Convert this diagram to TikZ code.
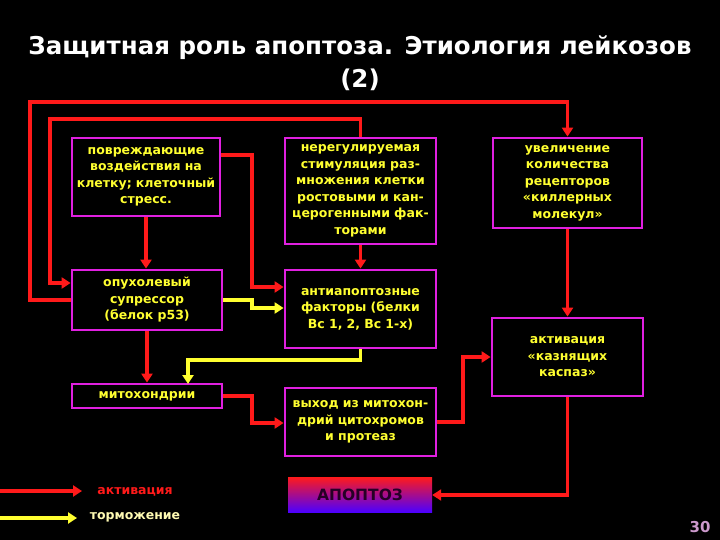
\documentclass[tikz,border=0pt]{standalone}
\usepackage{fontspec}
\setmainfont{DejaVu Sans}
\usetikzlibrary{arrows.meta}
\definecolor{mag}{HTML}{E020E0}
\definecolor{rd}{HTML}{FF1A1A}
\definecolor{yl}{HTML}{FFFF30}
\begin{document}
\begin{tikzpicture}[x=1pt,y=-1pt,
  box/.style={draw=mag,line width=2.8pt,fill=black,text=yl,font=\bfseries\fontsize{12.5}{16.5}\selectfont,align=center,inner sep=1pt},
  act/.style={draw=rd,line width=3.5pt,-{Triangle[length=9pt,width=11pt]}},
  inh/.style={draw=yl,line width=3.5pt,-{Triangle[length=9pt,width=11pt]}}]
\fill[black] (0,0) rectangle (720,540);
\useasboundingbox (0,0) rectangle (720,540);
\node[text=white,font=\bfseries\fontsize{24.5}{33}\selectfont,align=center] (T) at (360,63) {Защитная роль апоптоза. Этиология лейкозов\\(2)};
\node[box,minimum width=148,minimum height=78,text width=146] (A) at (146,177) {повреждающие\\воздействия на\\клетку; клеточный\\стресс.};
\node[box,minimum width=151,minimum height=106,text width=149] (B) at (360.5,191) {нерегулируемая\\стимуляция раз-\\множения клетки\\ростовыми и кан-\\церогенными фак-\\торами};
\node[box,minimum width=149,minimum height=90,text width=147] (C) at (567.5,183) {увеличение\\количества\\рецепторов\\«киллерных\\молекул»};
\node[box,minimum width=150,minimum height=60,text width=148] (D) at (147,300) {опухолевый\\супрессор\\(белок p53)};
\node[box,minimum width=151,minimum height=78,text width=149] (E) at (360.5,309) {антиапоптозные\\факторы (белки\\Bc 1, 2, Bc 1-x)\\[10pt]};
\node[box,minimum width=151,minimum height=78,text width=149] (F) at (567.5,357) {активация\\«казнящих\\каспаз»};
\node[box,minimum width=150,minimum height=24,text width=148] (G) at (147,396) {митохондрии};
\node[box,minimum width=151,minimum height=68,text width=149] (H) at (360.5,422) {выход из митохон-\\дрий цитохромов\\и протеаз};
\node[draw=none,top color=rd,bottom color=blue!70!magenta,minimum width=144,minimum height=35,inner sep=0pt,text=black!70!violet,font=\bfseries\fontsize{15.5}{17}\selectfont] (P) at (360,494.5) {АПОПТОЗ};
% connectors
\draw[act] (D.west) -- (30,300) -- (30,102) -- (C.north |- 0,102) -- (C.north);
\draw[act] (B.north) -- (B.north |- 0,119) -- (50,119) -- (50,283) -- (D.west |- 0,283);
\draw[act] (A.south) -- (A.south |- D.north);
\draw[act] (A.east |- 0,155) -- (252,155) -- (252,287) -- (E.west |- 0,287);
\draw[inh] (D.east) -- (252,300) -- (252,308) -- (E.west |- 0,308);
\draw[act] (B.south) -- (E.north);
\draw[inh] (E.south) -- (E.south |- 0,360) -- (188,360) -- (188,384);
\draw[act] (D.south) -- (G.north);
\draw[act] (G.east) -- (252,396) -- (252,423) -- (H.west |- 0,423);
\draw[act] (H.east) -- (463,422) -- (463,357) -- (F.west);
\draw[act] (C.south) -- (F.north);
\draw[act] (F.south) -- (F.south |- 0,495) -- (P.east |- 0,495);
% legend
\coordinate (l1) at (0,491);
\node[text=rd,font=\bfseries\fontsize{12.5}{14}\selectfont] (La) at (135,492) {активация};
\coordinate (l2) at (0,518);
\node[text=yellow!30!white,font=\bfseries\fontsize{12.5}{14}\selectfont] (Lb) at (135,517) {торможение};
\draw[act] (l1) -- (82,491);
\draw[inh] (l2) -- (77,518);
\node[text=violet!40!white,font=\bfseries\fontsize{15}{17}\selectfont] (N) at (700,527) {30};
\end{tikzpicture}
\end{document}
